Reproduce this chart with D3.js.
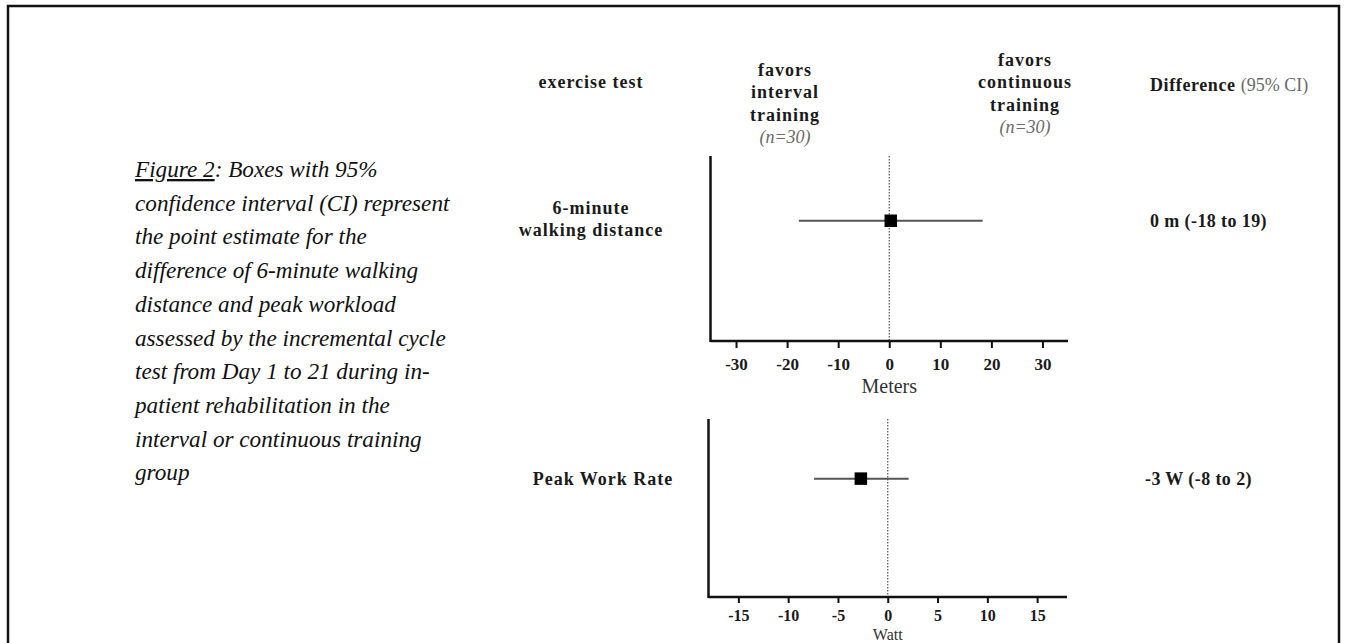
<!DOCTYPE html>
<html>
<head>
<meta charset="utf-8">
<script src="https://cdn.jsdelivr.net/npm/d3@7"></script>
<style>
  html, body { margin: 0; padding: 0; background: #fff; overflow: hidden; }
  svg { display: block; }
</style>
</head>
<body>
<svg id="chart" width="1346" height="643"></svg>
<script>
// ---------------- DATA ----------------
const tests = [["6-minute", "walking distance"], ["Peak Work Rate"]];
const units = ["Meters", "Watt"];
const estimates = [0.3, -2.7];
const ciLow = [-17.7, -7.4];
const ciHigh = [18.3, 2.1];
const domains = [[-35, 35], [-18, 18]];
const tickValues = [[-30, -20, -10, 0, 10, 20, 30], [-15, -10, -5, 0, 5, 10, 15]];
const diffLabels = ["0 m (-18 to 19)", "-3 W (-8 to 2)"];
const headerLeft = ["favors", "interval", "training", "(n=30)"];
const headerRight = ["favors", "continuous", "training", "(n=30)"];
const captionLines = [
  "confidence interval (CI) represent",
  "the point estimate for the",
  "difference of 6-minute walking",
  "distance and peak workload",
  "assessed by the incremental cycle",
  "test from Day 1 to 21 during in-",
  "patient rehabilitation in the",
  "interval or continuous training",
  "group"
];

// ---------------- LAYOUT ----------------
const svg = d3.select("#chart");
const serif = "'Liberation Serif', 'Times New Roman', serif";
const ink = "#1a1a1a";
const grey = "#6a6a6a";

// outer frame
svg.append("rect")
  .attr("x", 8).attr("y", 6).attr("width", 1331).attr("height", 660)
  .attr("fill", "none").attr("stroke", "#111").attr("stroke-width", 2.5);

// caption
const cap = svg.append("g").attr("font-family", serif).attr("font-style", "italic")
  .attr("font-size", 23.2).attr("fill", "#111");
const capX = 135, capY0 = 177, capDY = 33.7;
const first = cap.append("text").attr("x", capX).attr("y", capY0);
first.append("tspan").attr("text-decoration", "underline").text("Figure 2");
first.append("tspan").text(": Boxes with 95%");
cap.selectAll("text.line").data(captionLines).join("text")
  .attr("class", "line")
  .attr("x", capX)
  .attr("y", (d, i) => capY0 + capDY * (i + 1))
  .text(d => d);

// headers
const hdr = svg.append("g").attr("font-family", serif).attr("font-size", 18);
hdr.append("text").attr("x", 591).attr("y", 88).attr("text-anchor", "middle")
  .attr("font-weight", "bold").attr("letter-spacing", 1).attr("fill", ink).text("exercise test");

function headerBlock(lines, cx, y0) {
  hdr.selectAll(null).data(lines).join("text")
    .attr("x", cx)
    .attr("y", (d, i) => y0 + i * 22.4)
    .attr("text-anchor", "middle")
    .attr("font-weight", (d, i) => i === lines.length - 1 ? "normal" : "bold")
    .attr("font-style", (d, i) => i === lines.length - 1 ? "italic" : "normal")
    .attr("letter-spacing", (d, i) => i === lines.length - 1 ? 0 : 1)
    .attr("fill", (d, i) => i === lines.length - 1 ? grey : ink)
    .text(d => d);
}
headerBlock(headerLeft, 785, 76);
headerBlock(headerRight, 1025, 66);

const dh = hdr.append("text").attr("x", 1150).attr("y", 91).attr("fill", ink);
dh.append("tspan").attr("font-weight", "bold").attr("letter-spacing", 0.6).text("Difference ");
dh.append("tspan").attr("fill", grey).text("(95% CI)");

// panels
const panels = [
  { top: 156, bottom: 341, left: 710.5, right: 1068, rowFrac: 0.35, labelX: 591, unitDy: 52, unitSize: 20, pad: 6, tick: 7, tickFont: 17 },
  { top: 419, bottom: 597, left: 708.5, right: 1067, rowFrac: 0.335, labelX: 603, unitDy: 43, unitSize: 16, pad: 3, tick: 6, tickFont: 16 }
];

panels.forEach((p, i) => {
  const x = d3.scaleLinear().domain(domains[i]).range([p.left, p.right]);
  const y = d3.scaleLinear().domain([0, 1]).range([p.top, p.bottom]);
  const g = svg.append("g");
  const rowY = y(p.rowFrac);

  // zero reference (dotted)
  g.append("line")
    .attr("x1", x(0)).attr("x2", x(0))
    .attr("y1", p.top).attr("y2", p.bottom)
    .attr("stroke", "#555").attr("stroke-width", 1.2)
    .attr("stroke-dasharray", "1.5,1.5");

  // y axis line
  g.append("line")
    .attr("x1", p.left).attr("x2", p.left)
    .attr("y1", p.top).attr("y2", p.bottom + 1)
    .attr("stroke", "#111").attr("stroke-width", 2.5);

  // x axis
  const ax = g.append("g").attr("transform", `translate(0,${p.bottom})`)
    .call(d3.axisBottom(x).tickValues(tickValues[i]).tickSize(p.tick).tickPadding(p.pad).tickFormat(d3.format("d")));
  ax.select(".domain").attr("stroke", "#111").attr("stroke-width", 2.5)
    .attr("d", `M${p.left},0H${p.right}`);
  ax.selectAll(".tick line").attr("stroke", "#111").attr("stroke-width", 2);
  ax.selectAll(".tick text")
    .attr("font-family", serif).attr("font-size", p.tickFont).attr("font-weight", "bold")
    .attr("fill", ink).attr("dy", "0.95em")
    .text(d => d3.format("d")(d).replace("−", "-"));

  // unit label
  g.append("text").attr("x", x(0)).attr("y", p.bottom + p.unitDy)
    .attr("text-anchor", "middle").attr("font-family", serif).attr("font-size", p.unitSize)
    .attr("fill", "#333").text(units[i]);

  // CI line
  g.append("line")
    .attr("x1", x(ciLow[i])).attr("x2", x(ciHigh[i]))
    .attr("y1", rowY).attr("y2", rowY)
    .attr("stroke", "#555").attr("stroke-width", 2);

  // point estimate
  const s = 12.5;
  g.append("rect")
    .attr("x", x(estimates[i]) - s / 2).attr("y", rowY - s / 2)
    .attr("width", s).attr("height", s).attr("fill", "#000");

  // row label
  const lbl = tests[i];
  g.selectAll(null).data(lbl).join("text")
    .attr("x", p.labelX)
    .attr("y", (d, k) => rowY + 6 - (lbl.length - 1) * 11 + k * 22.5 - (i === 0 ? 2 : 0))
    .attr("text-anchor", "middle").attr("font-family", serif).attr("font-size", 18)
    .attr("font-weight", "bold").attr("letter-spacing", 1).attr("fill", ink)
    .text(d => d);

  // difference label
  g.append("text").attr("x", i === 0 ? 1150 : 1145).attr("y", rowY + 6)
    .attr("font-family", serif).attr("font-size", 18).attr("font-weight", "bold")
    .attr("letter-spacing", 0.4).attr("fill", ink).text(diffLabels[i]);
});
</script>
</body>
</html>
